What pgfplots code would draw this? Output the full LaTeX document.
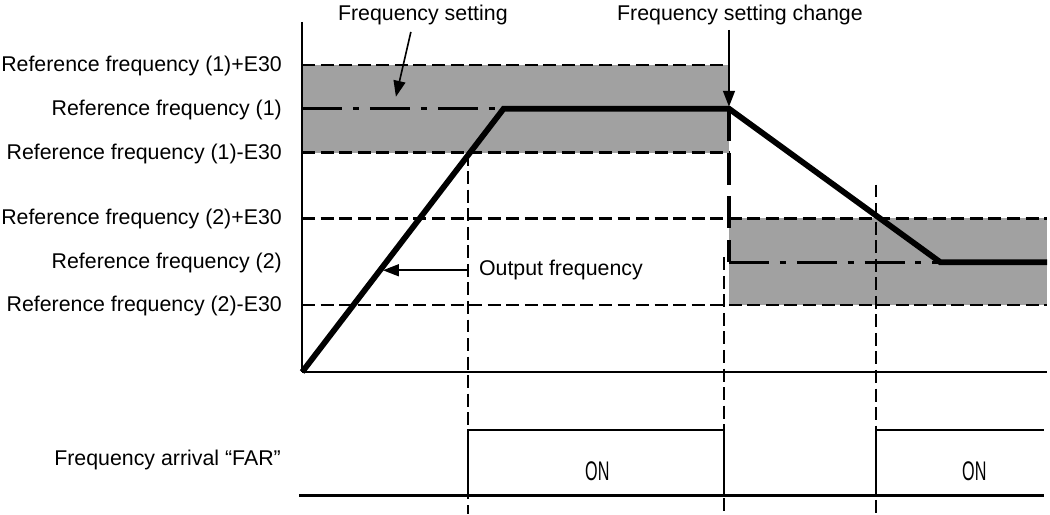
\documentclass[border=0pt]{standalone}
\usepackage{pgfplots}
\pgfplotsset{compat=1.18}
\usepackage{fontspec}
\setmainfont{Liberation Sans}
\usetikzlibrary{arrows.meta}

% picture laid out in pixel units of the 1050x515 reference, 1px = 0.5pt
\tikzset{
  lbl/.style={font=\fontsize{10.7}{12}\selectfont, inner sep=0pt},
  thinDash/.style={black, line width=1.1pt, dash pattern=on 6.5pt off 2.8pt},
  setDash/.style={black, line width=1.6pt, dash pattern=on 20pt off 5.5pt on 3pt off 5.5pt},
}

\begin{document}
\begin{tikzpicture}
\begin{axis}[
  width=525pt, height=257.5pt, scale only axis,
  xmin=0, xmax=1050, ymin=0, ymax=515, y dir=reverse,
  axis line style={draw=none}, ticks=none,
  clip=false,
]
% tolerance bands
\addplot[fill=black!37, draw=none] coordinates {(303,65) (731,65) (731,153) (303,153)};
\addplot[fill=black!37, draw=none] coordinates {(731,219) (1050,219) (1050,306) (731,306)};

% band limits
\addplot[thinDash] coordinates {(303,65) (731,65)};
\addplot[thinDash] coordinates {(303,153) (731,153)};
\addplot[thinDash] coordinates {(303,219) (1050,219)};
\addplot[thinDash] coordinates {(303,306) (1050,306)};

% timing guides
\addplot[thinDash] coordinates {(469,153) (469,515)};
\addplot[thinDash] coordinates {(726,258) (726,515)};
\addplot[thinDash] coordinates {(878,185) (878,515)};

% frequency setting (dash-dot)
\addplot[setDash] coordinates {(303,109) (505,109)};
\addplot[black, line width=1.6pt, dash pattern=on 16pt off 6pt] coordinates {(731,109) (731,263)};
\addplot[setDash] coordinates {(731,263) (943,263)};

% axes
\addplot[black, line width=1.3pt] coordinates {(303,22) (303,373)};
\addplot[black, line width=1.2pt] coordinates {(303,373) (1050,373)};

% output frequency
\addplot[black, line width=2.9pt, line join=miter] coordinates {
  (303,373) (505,109) (731,109) (943,263) (1050,263)};

% FAR signal
\addplot[black, line width=1.2pt] coordinates {(300,497) (1047,497)};
\addplot[black, line width=1.1pt] coordinates {(469,497) (469,431) (726,431) (726,497)};
\addplot[black, line width=1.1pt] coordinates {(878,497) (878,431) (1047,431)};

% annotations
\draw[black, line width=0.8pt, -{Triangle[length=8pt, width=6pt]}]
  (axis cs:412,32) -- (axis cs:397,97);
\draw[black, line width=0.8pt, -{Triangle[length=8pt, width=6pt]}]
  (axis cs:731,30) -- (axis cs:731,107);
\draw[black, line width=0.8pt, -{Triangle[length=8pt, width=6pt]}]
  (axis cs:468,271) -- (axis cs:384,271);

\node[lbl] at (axis cs:424,15) {Frequency setting};
\node[lbl] at (axis cs:742,15) {Frequency setting change};
\node[lbl, anchor=west] at (axis cs:480,271) {Output frequency};

\node[lbl, anchor=east] at (axis cs:283,66) {Reference frequency (1)+E30};
\node[lbl, anchor=east] at (axis cs:283,110) {Reference frequency (1)};
\node[lbl, anchor=east] at (axis cs:283,154) {Reference frequency (1)-E30};
\node[lbl, anchor=east] at (axis cs:283,220) {Reference frequency (2)+E30};
\node[lbl, anchor=east] at (axis cs:283,264) {Reference frequency (2)};
\node[lbl, anchor=east] at (axis cs:283,307) {Reference frequency (2)-E30};
\node[lbl, anchor=east] at (axis cs:282,461) {Frequency arrival “FAR”};

\node[inner sep=0pt, xscale=0.6, font=\fontsize{13.5}{14}\selectfont] at (axis cs:599,473) {ON};
\node[inner sep=0pt, xscale=0.6, font=\fontsize{13.5}{14}\selectfont] at (axis cs:977,473) {ON};
\end{axis}
\end{tikzpicture}
\end{document}
